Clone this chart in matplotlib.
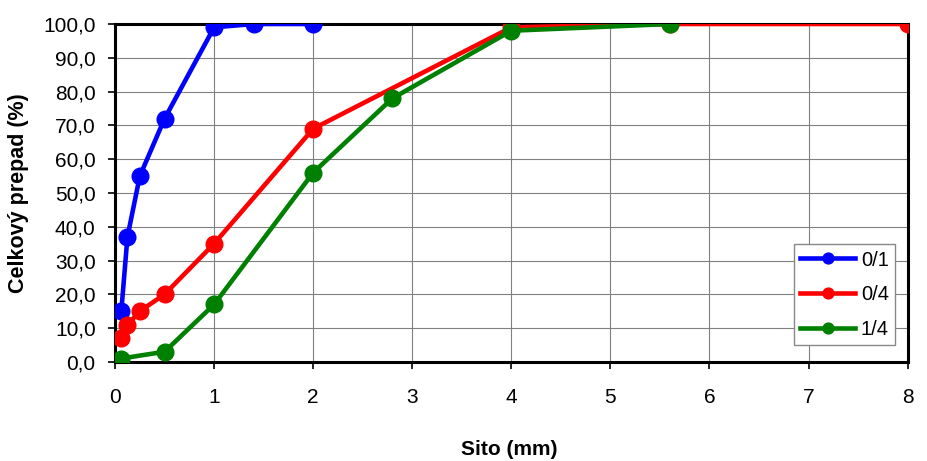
import matplotlib.pyplot as plt
from matplotlib.ticker import FuncFormatter

plt.rcParams['font.family'] = ['Liberation Sans', 'DejaVu Sans']

# data
sito_01 = [0.063, 0.125, 0.25, 0.5, 1, 1.4, 2]
prepad_01 = [15, 37, 55, 72, 99, 100, 100]

sito_04 = [0.063, 0.125, 0.25, 0.5, 1, 2, 4, 5.6, 8]
prepad_04 = [7, 11, 15, 20, 35, 69, 99, 100, 100]

sito_14 = [0.063, 0.5, 1, 2, 2.8, 4, 5.6]
prepad_14 = [1, 3, 17, 56, 78, 98, 100]

fig = plt.figure(figsize=(9.28, 4.61), dpi=100)
ax = fig.add_axes([0.124, 0.215, 0.854, 0.733])

ax.plot(sito_01, prepad_01, color='#0000ff', lw=3.3, marker='o', ms=12, label='0/1', zorder=3)
ax.plot(sito_04, prepad_04, color='#ff0000', lw=3.3, marker='o', ms=12, label='0/4', zorder=3)
ax.plot(sito_14, prepad_14, color='#008000', lw=3.3, marker='o', ms=12, label='1/4', zorder=3)

ax.set_xlim(0, 8)
ax.set_ylim(0, 100)
ax.set_xticks(range(0, 9))
ax.set_yticks(range(0, 101, 10))
ax.yaxis.set_major_formatter(FuncFormatter(lambda v, p: f'{v:.1f}'.replace('.', ',')))
ax.grid(True, color='#808080', lw=0.8)
ax.set_axisbelow(True)
for s in ax.spines.values():
    s.set_linewidth(2.2)
    s.set_color('black')
ax.tick_params(labelsize=15, length=5, width=1.2)
ax.tick_params(axis='x', pad=14)
ax.tick_params(axis='y', pad=9)

ax.set_xlabel('Sito (mm)', fontsize=15, fontweight='bold')
ax.set_ylabel('Celkový prepad (%)', fontsize=15.5, fontweight='bold')
ax.xaxis.set_label_coords(0.498, -0.232)
ax.yaxis.set_label_coords(-0.108, 0.5)

leg = ax.legend(loc='lower right', bbox_to_anchor=(0.984, 0.05), fontsize=14.5,
                fancybox=False, edgecolor='#888888', framealpha=1,
                handlelength=2.7, markerscale=0.65, borderpad=0.3, labelspacing=0.78,
                handletextpad=0.3, borderaxespad=0)

fig.savefig('out.png', dpi=100)
